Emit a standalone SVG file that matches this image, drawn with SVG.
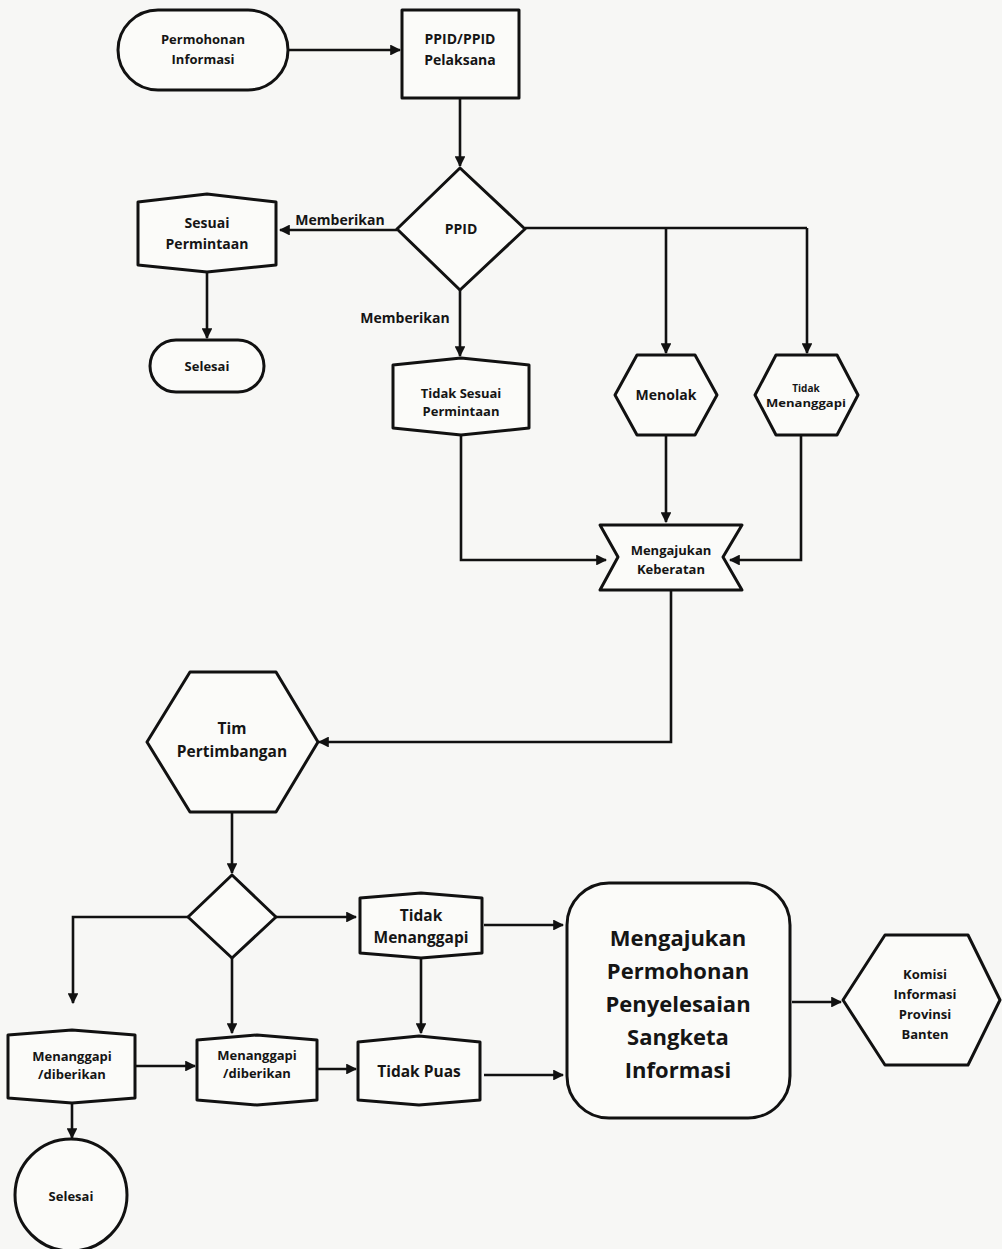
<svg xmlns="http://www.w3.org/2000/svg" width="1002" height="1249" viewBox="0 0 1002 1249">
<defs>
<marker id="ah" viewBox="0 0 10 10" refX="9" refY="5" markerWidth="4.2" markerHeight="4.2" orient="auto" markerUnits="strokeWidth">
<path d="M0,0 L10,5 L0,10 z" fill="#111"/>
</marker>
<style>
.s{fill:#fbfbf9;stroke:#111;stroke-width:3;stroke-linejoin:round}
.c{fill:none;stroke:#111;stroke-width:2.6;marker-end:url(#ah)}
.n{fill:none;stroke:#111;stroke-width:2.6}
text{font-family:"Open Sans","Liberation Sans",sans-serif;font-weight:700;fill:#151515;text-anchor:middle}
.t14{font-size:14px}
.t13{font-size:13px}
.t16{font-size:15.5px}
.big{font-size:22px}
</style>
</defs>
<rect width="1002" height="1249" fill="#f7f7f5"/>

<g id="connectors">
<path class="c" d="M288,50 H400"/>
<path class="c" d="M460,98 V166"/>
<path class="c" d="M397,230 H280"/>
<path class="c" d="M207,272 V338"/>
<path class="c" d="M460,290 V356"/>
<path class="n" d="M525,228 H807"/>
<path class="c" d="M807,228 V353"/>
<path class="c" d="M666,228 V353"/>
<path class="c" d="M461,435 V560 H606"/>
<path class="c" d="M666,435 V522"/>
<path class="c" d="M801,435 V560 H730"/>
<path class="c" d="M671,590 V742 H319"/>
<path class="c" d="M232,812 V873"/>
<path class="c" d="M188,917 H73 V1003"/>
<path class="c" d="M232,958 V1033"/>
<path class="c" d="M276,917 H356"/>
<path class="c" d="M421,958 V1033"/>
<path class="c" d="M135,1066 H195"/>
<path class="c" d="M317,1069 H356"/>
<path class="c" d="M484,925 H563"/>
<path class="c" d="M484,1075 H563"/>
<path class="c" d="M72,1103 V1138"/>
<path class="c" d="M792,1002 H841"/>
<text class="t14" x="340" y="225">Memberikan</text>
<text class="t14" x="405" y="323">Memberikan</text>
</g>

<g id="permohonan">
<rect class="s" x="118" y="10" width="170" height="80" rx="40"/>
<text class="t13" x="203" y="44">Permohonan</text>
<text class="t13" x="203" y="64">Informasi</text>
</g>

<g id="ppid-pelaksana">
<rect class="s" x="402" y="10" width="117" height="88"/>
<text class="t14" x="460" y="44">PPID/PPID</text>
<text class="t14" x="460" y="65">Pelaksana</text>
</g>

<g id="ppid">
<polygon class="s" points="460,168 525,229 460,290 397,229"/>
<text class="t14" x="461" y="234">PPID</text>
</g>

<g id="sesuai">
<polygon class="s" points="138,202 207,194 276,202 276,265 207,272 138,265"/>
<text class="t14" x="207" y="228">Sesuai</text>
<text class="t14" x="207" y="249">Permintaan</text>
</g>

<g id="selesai1">
<rect class="s" x="150" y="340" width="114" height="52" rx="26"/>
<text class="t13" x="207" y="371">Selesai</text>
</g>

<g id="tidak-sesuai">
<polygon class="s" points="393,365 461,358 529,365 529,428 461,435 393,428"/>
<text class="t13" x="461" y="398">Tidak Sesuai</text>
<text class="t13" x="461" y="416">Permintaan</text>
</g>

<g id="menolak">
<polygon class="s" points="615,395 637,355 695,355 717,395 695,435 637,435"/>
<text class="t14" x="666" y="400">Menolak</text>
</g>

<g id="tidak-menanggapi-1">
<polygon class="s" points="755,395 776,355 837,355 858,395 837,435 776,435"/>
<text x="806" y="392" style="font-size:10px">Tidak</text>
<text x="806" y="407" style="font-size:10.5px" textLength="80" lengthAdjust="spacingAndGlyphs">Menanggapi</text>
</g>

<g id="keberatan">
<polygon class="s" points="600,525 742,525 723,557 742,590 600,590 618,557"/>
<text class="t13" x="671" y="555">Mengajukan</text>
<text class="t13" x="671" y="574">Keberatan</text>
</g>

<g id="tim-pertimbangan">
<polygon class="s" points="147,742 190,672 276,672 318,742 276,812 190,812"/>
<text class="t16" x="232" y="734">Tim</text>
<text class="t16" x="232" y="757">Pertimbangan</text>
</g>

<g id="keputusan">
<polygon class="s" points="232,875 276,917 232,958 188,917"/>
</g>

<g id="tidak-menanggapi-2">
<polygon class="s" points="360,898 421,893 482,898 482,953 421,958 360,953"/>
<text class="t16" x="421" y="921">Tidak</text>
<text class="t16" x="421" y="943">Menanggapi</text>
</g>

<g id="menanggapi-1">
<polygon class="s" points="8,1035 72,1030 135,1035 135,1098 72,1103 8,1098"/>
<text class="t13" x="72" y="1061">Menanggapi</text>
<text class="t13" x="72" y="1079">/diberikan</text>
</g>

<g id="menanggapi-2">
<polygon class="s" points="197,1040 257,1035 317,1040 317,1100 257,1105 197,1100"/>
<text class="t13" x="257" y="1060">Menanggapi</text>
<text class="t13" x="257" y="1078">/diberikan</text>
</g>

<g id="tidak-puas">
<polygon class="s" points="358,1042 419,1036 480,1042 480,1100 419,1105 358,1100"/>
<text class="t16" x="419" y="1077">Tidak Puas</text>
</g>

<g id="selesai2">
<circle class="s" cx="71" cy="1195" r="56"/>
<text class="t13" x="71" y="1201">Selesai</text>
</g>

<g id="sengketa">
<rect class="s" x="567" y="883" width="223" height="235" rx="42"/>
<text class="big" x="678" y="946">Mengajukan</text>
<text class="big" x="678" y="979">Permohonan</text>
<text class="big" x="678" y="1012">Penyelesaian</text>
<text class="big" x="678" y="1045">Sangketa</text>
<text class="big" x="678" y="1078">Informasi</text>
</g>

<g id="komisi">
<polygon class="s" points="843,1000 885,935 968,935 1000,1000 968,1065 885,1065"/>
<text class="t13" x="925" y="979">Komisi</text>
<text class="t13" x="925" y="999">Informasi</text>
<text class="t13" x="925" y="1019">Provinsi</text>
<text class="t13" x="925" y="1039">Banten</text>
</g>
</svg>
